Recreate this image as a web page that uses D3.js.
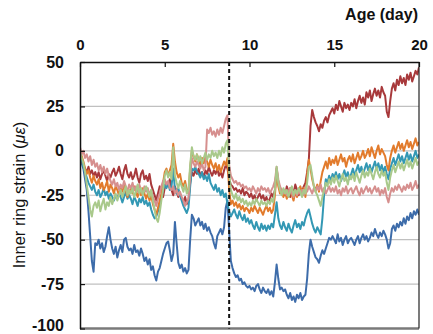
<!DOCTYPE html>
<html>
<head>
<meta charset="utf-8">
<script src="https://cdn.jsdelivr.net/npm/d3@7/dist/d3.min.js"></script>
<style>
  html, body { margin: 0; padding: 0; background: #fff; }
  svg { display: block; font-family: "Liberation Sans", Arial, sans-serif; }
</style>
</head>
<body>
<svg id="chart" width="433" height="334"></svg>
<script>
// Sampling: one reading every 0.1 day from day 0 to day 20
const dayStep = 0.1;
const xTicks = [0, 5, 10, 15, 20];
const yTicks = [50, 25, 0, -25, -50, -75, -100];
const dashedDay = 8.8;

const blue = [
  -4,-7,-10,-16,-22,-34,-48,-62,-68,-52,
  -53,-50,-55,-52,-57,-54,-48,-43,-50,-55,
  -58,-54,-60,-56,-53,-57,-50,-49,-54,-56,
  -55,-58,-53,-57,-56,-59,-55,-58,-62,-60,
  -64,-61,-67,-65,-70,-73,-68,-66,-62,-58,
  -55,-52,-51,-56,-62,-58,-40,-52,-63,-66,
  -64,-68,-66,-69,-67,-50,-36,-38,-42,-40,
  -38,-42,-40,-44,-41,-45,-43,-46,-48,-52,
  -55,-48,-46,-44,-47,-43,-32,-28,-45,-62,
  -66,-69,-71,-70,-73,-72,-75,-74,-76,-77,
  -76,-78,-77,-79,-76,-75,-78,-80,-77,-79,
  -80,-78,-81,-79,-82,-74,-64,-72,-78,-77,
  -79,-78,-81,-83,-80,-84,-82,-85,-81,-83,
  -80,-84,-82,-81,-72,-58,-50,-54,-57,-60,
  -61,-63,-59,-56,-58,-55,-52,-49,-50,-48,
  -50,-52,-47,-51,-49,-53,-50,-48,-52,-50,
  -49,-51,-53,-50,-48,-52,-49,-47,-50,-48,
  -51,-49,-46,-48,-44,-47,-49,-46,-48,-45,
  -47,-50,-55,-52,-44,-42,-45,-41,-43,-40,
  -42,-38,-41,-37,-39,-35,-38,-34,-36,-33,
  -36
];

const darkRed = [
  -3,-6,-8,-10,-12,-9,-13,-11,-14,-12,
  -15,-12,-16,-13,-11,-14,-17,-13,-15,-12,
  -10,-14,-12,-9,-13,-16,-11,-8,-13,-15,
  -12,-16,-14,-10,-15,-18,-13,-11,-16,-14,
  -17,-13,-19,-22,-25,-28,-24,-20,-23,-26,
  -21,-18,-20,-16,-22,-25,-20,-23,-26,-24,
  -27,-29,-26,-30,-28,-18,-12,-14,-11,-13,
  -10,-14,-12,-15,-11,-13,-9,-12,-14,-11,
  -13,-10,-14,-12,-15,-11,-8,-10,-16,-19,
  -20,-22,-21,-23,-22,-24,-21,-25,-23,-24,
  -26,-24,-27,-25,-28,-26,-24,-27,-25,-28,
  -26,-29,-27,-24,-26,-22,-10,-18,-21,-24,
  -22,-25,-20,-23,-26,-21,-24,-19,-22,-25,
  -21,-23,-20,-18,-12,-5,14,23,19,16,
  14,11,15,13,17,19,16,20,22,24,
  21,26,23,28,25,22,27,24,26,23,
  27,25,29,24,28,31,27,30,26,33,
  30,34,28,32,35,31,34,30,36,33,
  31,22,19,28,35,38,34,40,37,42,
  38,41,37,43,40,44,39,42,45,43,
  47
];

const orange = [
  0,-3,-6,-10,-13,-11,-15,-18,-14,-17,
  -19,-16,-21,-18,-22,-20,-17,-23,-19,-21,
  -24,-20,-22,-25,-21,-23,-19,-22,-26,-23,
  -21,-24,-20,-23,-26,-22,-25,-21,-24,-27,
  -24,-28,-25,-30,-33,-36,-32,-28,-24,-18,
  -12,-10,-14,-11,-8,4,-6,-12,-15,-13,
  -18,-20,-17,-22,-24,-10,0,-3,-6,-2,
  -5,-8,-4,-7,-3,-6,-9,-5,-8,-10,
  -7,-11,-8,-12,-9,-6,-8,-4,-22,-30,
  -28,-31,-29,-32,-30,-33,-31,-34,-32,-33,
  -35,-32,-34,-31,-33,-35,-32,-34,-36,-33,
  -31,-34,-32,-35,-33,-25,-12,-20,-24,-22,
  -26,-23,-27,-24,-21,-25,-28,-23,-26,-22,
  -20,-24,-21,-26,-14,-5,-10,-16,-20,-22,
  -19,-23,-17,-12,-9,-6,-10,-4,-8,-5,
  -7,-3,-8,-5,-2,-6,-4,-9,-5,-3,
  -6,-2,-7,-4,-1,-5,-3,0,-4,-2,
  1,-3,2,-1,-4,0,3,-2,1,-1,
  -3,-8,-11,-4,0,3,-1,2,5,1,
  4,0,3,6,2,5,1,4,7,3,
  5
];

const teal = [
  -2,-5,-9,-12,-15,-18,-20,-22,-19,-23,
  -25,-22,-26,-24,-21,-25,-23,-27,-24,-26,
  -28,-25,-27,-24,-26,-29,-26,-23,-27,-25,
  -27,-30,-26,-28,-31,-27,-29,-26,-30,-28,
  -31,-29,-33,-36,-38,-37,-34,-30,-26,-22,
  -19,-21,-18,-22,-20,-10,-22,-24,-21,-25,
  -28,-31,-33,-35,-32,-20,-10,-11,-9,-12,
  -13,-15,-12,-16,-14,-17,-13,-18,-20,-22,
  -19,-23,-21,-25,-22,-26,-24,-30,-34,-37,
  -35,-33,-36,-38,-34,-37,-39,-36,-40,-38,
  -41,-39,-42,-44,-40,-43,-45,-41,-44,-42,
  -45,-42,-44,-41,-43,-36,-29,-38,-42,-44,
  -40,-43,-45,-41,-44,-46,-42,-39,-43,-41,
  -44,-40,-42,-38,-35,-33,-37,-41,-44,-46,
  -43,-45,-47,-38,-25,-16,-18,-14,-17,-13,
  -15,-12,-16,-13,-17,-14,-11,-15,-12,-16,
  -13,-10,-14,-11,-8,-12,-9,-13,-10,-7,
  -11,-8,-12,-9,-6,-10,-7,-11,-8,-12,
  -9,-13,-16,-10,-7,-4,-8,-5,-2,-6,
  -3,-7,-4,-1,-5,-2,-6,-3,0,-4,
  -2
];

const green = [
  -1,-4,-7,-12,-19,-26,-33,-37,-31,-29,
  -32,-28,-34,-30,-27,-33,-29,-31,-26,-30,
  -27,-24,-28,-25,-22,-26,-23,-20,-25,-22,
  -24,-21,-26,-23,-19,-24,-21,-25,-22,-20,
  -23,-26,-22,-28,-33,-38,-40,-35,-28,-22,
  -14,-11,-15,-12,-16,2,-14,-18,-21,-17,
  -20,-23,-19,-24,-22,-8,2,-3,-5,-2,
  -6,-3,-7,-4,-1,-5,-2,-4,0,-3,
  -1,-4,0,-3,2,-1,4,6,-12,-22,
  -25,-27,-24,-28,-26,-29,-27,-30,-28,-31,
  -29,-31,-28,-30,-27,-29,-31,-28,-30,-29,
  -31,-28,-30,-27,-29,-22,-9,-18,-22,-25,
  -21,-24,-22,-26,-23,-20,-25,-22,-24,-21,
  -23,-26,-22,-24,-18,-9,-8,-14,-20,-23,
  -25,-28,-31,-26,-22,-18,-20,-16,-19,-15,
  -18,-14,-17,-20,-16,-13,-17,-15,-19,-14,
  -16,-13,-17,-12,-15,-18,-14,-11,-15,-12,
  -14,-10,-13,-16,-12,-9,-13,-15,-11,-14,
  -12,-18,-22,-15,-11,-8,-12,-9,-6,-10,
  -7,-11,-8,-5,-9,-6,-10,-7,-4,-8,
  -6
];

const pink = [
  2,-2,0,-4,-2,-6,-3,-8,-5,-9,
  -7,-11,-8,-12,-9,-13,-10,-14,-17,-19,
  -16,-20,-18,-22,-19,-21,-17,-20,-23,-19,
  -21,-18,-22,-20,-23,-19,-22,-24,-20,-23,
  -21,-25,-22,-26,-28,-31,-27,-24,-20,-17,
  -16,-19,-17,-21,-22,-20,-24,-22,-25,-23,
  -26,-28,-31,-29,-27,-15,-4,-7,-9,-6,
  -8,-10,-7,-11,-9,12,10,13,9,11,
  8,12,9,13,10,14,18,20,-8,-14,
  -16,-18,-17,-19,-18,-20,-19,-21,-20,-22,
  -21,-23,-20,-22,-24,-21,-23,-20,-22,-21,
  -23,-21,-24,-22,-20,-17,-9,-16,-20,-22,
  -24,-22,-25,-23,-21,-24,-26,-22,-25,-23,
  -24,-22,-25,-21,-23,-20,-22,-24,-21,-23,
  -20,-22,-19,-23,-21,-24,-22,-20,-23,-21,
  -23,-20,-24,-22,-25,-21,-23,-20,-24,-22,
  -21,-24,-22,-20,-23,-25,-21,-24,-22,-20,
  -23,-21,-24,-22,-20,-23,-21,-25,-22,-24,
  -21,-26,-29,-24,-21,-23,-20,-22,-19,-21,
  -23,-20,-22,-19,-21,-18,-22,-20,-17,-21,
  -19
];

// Drawing order (first is at the bottom)
const seriesList = [
  { name: "blue", values: blue, color: "#3d6caa" },
  { name: "darkRed", values: darkRed, color: "#a8393b" },
  { name: "teal", values: teal, color: "#3398b4" },
  { name: "orange", values: orange, color: "#e27b2c" },
  { name: "pink", values: pink, color: "#d68f8e" },
  { name: "green", values: green, color: "#a9c98b" }
];

const svg = d3.select("#chart");
const margin = { left: 80, right: 14, top: 62, bottom: 5.5 };
const W = 433, H = 334;

const x = d3.scaleLinear().domain([0, 20]).range([margin.left, W - margin.right]);
const y = d3.scaleLinear().domain([-100, 50]).range([H - margin.bottom, margin.top]);

// Plain hyphen-minus for negative labels
const plainNumber = d => String(d);

// Horizontal gridlines
svg.append("g")
  .selectAll("line")
  .data(yTicks.filter(v => v > -100 && v < 50))
  .join("line")
  .attr("x1", x(0)).attr("x2", x(20))
  .attr("y1", d => y(d)).attr("y2", d => y(d))
  .attr("stroke", "#c0c0c0").attr("stroke-width", 1.2);

// Clip lines to the plot frame
svg.append("clipPath").attr("id", "plot-clip")
  .append("rect")
  .attr("x", x(0)).attr("y", y(50))
  .attr("width", x(20) - x(0)).attr("height", y(-100) - y(50));

const line = d3.line()
  .x((d, i) => x(i * dayStep))
  .y(d => y(d));

svg.append("g").attr("clip-path", "url(#plot-clip)")
  .selectAll("path")
  .data(seriesList)
  .join("path")
  .attr("d", d => line(d.values))
  .attr("fill", "none")
  .attr("stroke", d => d.color)
  .attr("stroke-width", 2)
  .attr("stroke-linejoin", "round");

// Frame: bottom and right edges
svg.append("line")
  .attr("x1", x(0)).attr("x2", x(20))
  .attr("y1", y(-100)).attr("y2", y(-100))
  .attr("stroke", "#7a7a7a").attr("stroke-width", 2.5);
svg.append("line")
  .attr("x1", x(20)).attr("x2", x(20))
  .attr("y1", y(50)).attr("y2", y(-100))
  .attr("stroke", "#222").attr("stroke-width", 1.2);

// Vertical dashed marker
svg.append("line")
  .attr("x1", x(dashedDay)).attr("x2", x(dashedDay))
  .attr("y1", y(50)).attr("y2", y(-100))
  .attr("stroke", "#111").attr("stroke-width", 2)
  .attr("stroke-dasharray", "4,3");

// Top axis (days)
const xAxis = svg.append("g")
  .attr("transform", `translate(0,${y(50)})`)
  .call(d3.axisTop(x).tickValues(xTicks).tickSizeInner(-5).tickSizeOuter(0).tickPadding(12).tickFormat(plainNumber));
xAxis.select(".domain").attr("stroke", "#111").attr("stroke-width", 1.5);
xAxis.selectAll(".tick line").attr("stroke", "#111").attr("stroke-width", 1.2);
xAxis.selectAll("text")
  .attr("font-size", 15).attr("font-weight", "bold").attr("fill", "#111")
  .attr("font-family", "Liberation Sans, Arial, sans-serif");

// Left axis (strain)
const yAxis = svg.append("g")
  .attr("transform", `translate(${x(0)},0)`)
  .call(d3.axisLeft(y).tickValues(yTicks).tickSizeInner(-5).tickSizeOuter(0).tickPadding(16).tickFormat(plainNumber));
yAxis.select(".domain").attr("stroke", "#111").attr("stroke-width", 1.5);
yAxis.selectAll(".tick line").attr("stroke", "#111").attr("stroke-width", 1.2);
yAxis.selectAll("text")
  .attr("font-size", 16).attr("font-weight", "bold").attr("fill", "#111")
  .attr("font-family", "Liberation Sans, Arial, sans-serif");
// keep the lowest label inside the canvas
yAxis.selectAll(".tick text").filter(d => d === -100).attr("dy", "0.1em");

// Axis titles
svg.append("text")
  .attr("x", 418).attr("y", 20)
  .attr("text-anchor", "end")
  .attr("font-size", 16).attr("font-weight", "bold").attr("fill", "#111")
  .text("Age (day)");

const yTitle = svg.append("text")
  .attr("transform", "translate(25,195) rotate(-90)")
  .attr("text-anchor", "middle")
  .attr("font-size", 16.5).attr("fill", "#111");
yTitle.append("tspan").text("Inner ring strain (");
yTitle.append("tspan").attr("font-style", "italic").text("με");
yTitle.append("tspan").text(")");
</script>
</body>
</html>
